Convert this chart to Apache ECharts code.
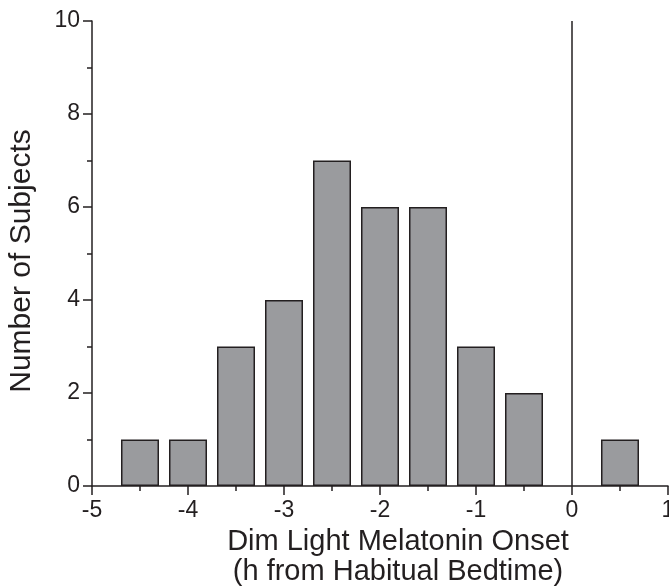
<!DOCTYPE html>
<html>
<head>
<meta charset="utf-8">
<script src="https://cdn.jsdelivr.net/npm/echarts@6/dist/echarts.min.js"></script>
<style>
  html, body { margin: 0; padding: 0; background: #fff; }
  #chart { width: 669px; height: 586px; }
</style>
</head>
<body>
<div id="chart"></div>
<script>
// bin centres (h from habitual bedtime) and subject counts
var binCenters = [-4.5, -4, -3.5, -3, -2.5, -2, -1.5, -1, -0.5, 0.5];
var counts = [1, 1, 3, 4, 7, 6, 6, 3, 2, 1];
var xTicks = { min: -5, max: 1, interval: 1 };
var yTicks = { min: 0, max: 10, interval: 2 };
var bedtimeLine = 0;

var ink = '#231f20';
var font = 'Liberation Sans, Arial, Helvetica, sans-serif';

var chart = echarts.init(document.getElementById('chart'));

var data = [];
for (var i = 0; i < binCenters.length; i++) {
    data.push([binCenters[i], counts[i]]);
}

var option = {
    animation: false,
    grid: { left: 92, right: 1, top: 21, bottom: 100, outerBoundsMode: 'none', containLabel: false },
    graphic: [
        {
            type: 'text', x: 398, y: 527,
            style: {
                text: 'Dim Light Melatonin Onset\n(h from Habitual Bedtime)',
                font: '29px ' + font, fill: ink,
                textAlign: 'center', textVerticalAlign: 'top', lineHeight: 30
            }
        },
        {
            type: 'text', x: 22, y: 261, rotation: Math.PI / 2,
            style: {
                text: 'Number of Subjects',
                font: '30px ' + font, fill: ink,
                textAlign: 'center', textVerticalAlign: 'middle'
            }
        }
    ],
    xAxis: {
        type: 'value',
        min: xTicks.min, max: xTicks.max, interval: xTicks.interval,
        axisLine: { onZero: false, lineStyle: { color: ink, width: 1.5 } },
        axisTick: { show: true, length: 9, lineStyle: { color: ink, width: 1.5 } },
        minorTick: { show: true, splitNumber: 2, length: 5, lineStyle: { color: ink, width: 1.5 } },
        splitLine: { show: false },
        axisLabel: { margin: 13, fontFamily: font, fontSize: 23, color: ink, showMaxLabel: true, showMinLabel: true }
    },
    yAxis: {
        type: 'value',
        min: yTicks.min, max: yTicks.max, interval: yTicks.interval,
        axisLine: { show: true, onZero: false, lineStyle: { color: ink, width: 1.5 } },
        axisTick: { show: true, length: 9, lineStyle: { color: ink, width: 1.5 } },
        minorTick: { show: true, splitNumber: 2, length: 5, lineStyle: { color: ink, width: 1.5 } },
        splitLine: { show: false },
        axisLabel: { margin: 12, fontFamily: font, fontSize: 23, color: ink, showMaxLabel: true, showMinLabel: true }
    },
    series: [
        {
            type: 'bar',
            data: data,
            barWidth: 38,
            itemStyle: { color: '#9a9b9e', borderColor: ink, borderWidth: 1.5 },
            markLine: {
                silent: true,
                symbol: 'none',
                label: { show: false },
                lineStyle: { color: ink, width: 1.5, type: 'solid' },
                data: [{ xAxis: bedtimeLine }]
            }
        }
    ]
};

chart.setOption(option);
</script>
</body>
</html>
